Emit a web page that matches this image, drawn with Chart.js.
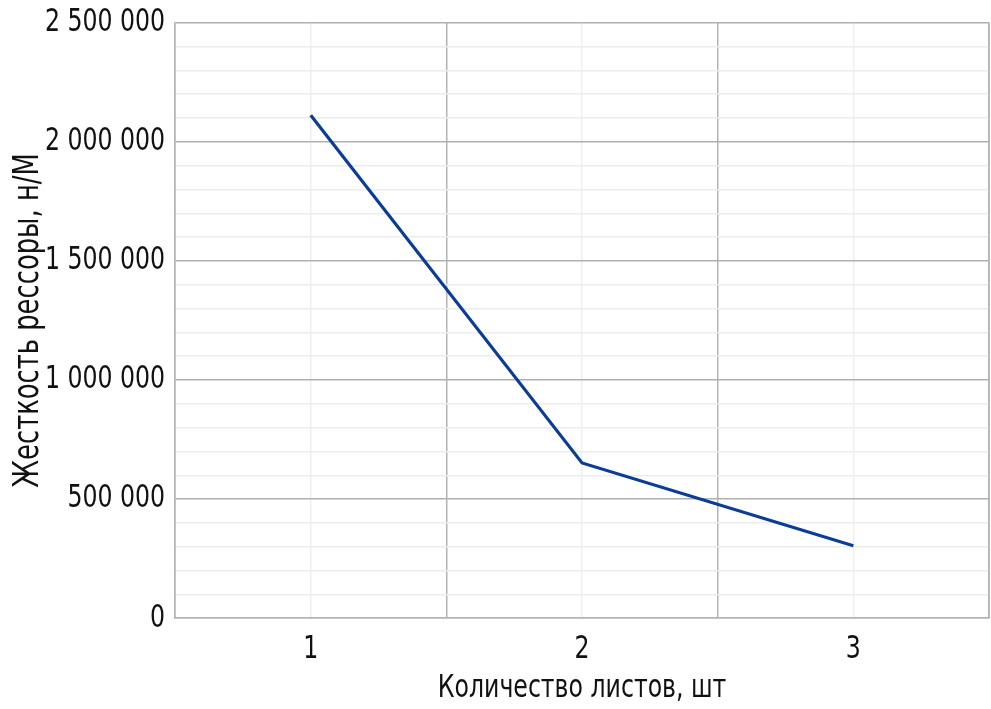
<!DOCTYPE html>
<html>
<head>
<meta charset="utf-8">
<script src="https://cdn.jsdelivr.net/npm/chart.js@4"></script>
<style>
  html, body { margin: 0; padding: 0; background: #fff; }
  #wrap { width: 991px; height: 709px; }
</style>
</head>
<body>
<div id="wrap"><canvas id="chart"></canvas></div>
<script>
const leafCounts = ['1', '2', '3'];
const stiffness = [2112000, 652000, 304000];

const yMin = 0;
const yMax = 2500000;
const yStep = 100000;
const yLabelStep = 500000;

const FONT = "'DejaVu Sans Condensed', 'Liberation Sans Narrow', sans-serif";
const SQUEEZE = 0.82; // the original uses a narrow font, squeeze text horizontally

function spaced(v) {
    return String(v).replace(/\B(?=(\d{3})+(?!\d))/g, ' ');
}

const ctx = document.getElementById('chart').getContext('2d');

// narrow text: scale glyphs along x and report the matching width
const origFillText = ctx.fillText.bind(ctx);
const origMeasure = ctx.measureText.bind(ctx);
ctx.fillText = function(text, x, y, maxWidth) {
    this.save();
    this.translate(x, y);
    this.scale(SQUEEZE, 1);
    origFillText(text, 0, 0);
    this.restore();
};
ctx.measureText = function(text) {
    const m = origMeasure(text);
    return {
        width: m.width * SQUEEZE,
        actualBoundingBoxAscent: m.actualBoundingBoxAscent,
        actualBoundingBoxDescent: m.actualBoundingBoxDescent,
        actualBoundingBoxLeft: m.actualBoundingBoxLeft * SQUEEZE,
        actualBoundingBoxRight: m.actualBoundingBoxRight * SQUEEZE
    };
};

new Chart(ctx, {
    type: 'line',
    data: {
        labels: leafCounts,
        datasets: [{
            data: stiffness,
            borderColor: '#0b3d96',
            borderWidth: 3.2,
            pointRadius: 0,
            tension: 0,
            fill: false
        }]
    },
    options: {
        responsive: true,
        maintainAspectRatio: false,
        animation: false,
        layout: { padding: { top: -3, right: 2, bottom: 1, left: 8 } },
        plugins: {
            legend: { display: false },
            tooltip: { enabled: false }
        },
        scales: {
            x: {
                type: 'category',
                offset: true,
                grid: {
                    offset: true,
                    color: '#b4b4b4',
                    lineWidth: 1.5,
                    drawTicks: false
                },
                border: { display: true, color: '#b4b4b4', width: 1.5 },
                ticks: {
                    color: '#111',
                    padding: 12,
                    font: { family: FONT, size: 32 }
                },
                title: {
                    display: true,
                    text: 'Количество листов, шт',
                    color: '#111',
                    padding: { top: -11, bottom: 0 },
                    font: { family: FONT, size: 32 }
                }
            },
            xCenter: {
                type: 'category',
                position: 'top',
                offset: true,
                labels: leafCounts,
                grid: {
                    offset: false,
                    color: '#efefef',
                    lineWidth: 1.5,
                    drawTicks: false
                },
                border: { display: false },
                ticks: { display: false }
            },
            y: {
                min: yMin,
                max: yMax,
                grid: {
                    color: c => (c.tick && c.tick.value % yLabelStep === 0) ? '#b0b0b0' : '#ececec',
                    lineWidth: 1.5,
                    drawTicks: false
                },
                border: { display: true, color: '#b4b4b4', width: 1.5 },
                ticks: {
                    stepSize: yStep,
                    autoSkip: false,
                    color: '#111',
                    padding: 10,
                    font: { family: FONT, size: 32, lineHeight: 0.8 },
                    callback: v => (v % yLabelStep === 0) ? spaced(v) : ''
                },
                title: {
                    display: true,
                    text: 'Жесткость рессоры, н/М',
                    color: '#111',
                    padding: { top: 0, bottom: -15 },
                    font: { family: FONT, size: 35 }
                }
            }
        }
    },
    plugins: [{
        id: 'frame',
        afterDraw(chart) {
            const a = chart.chartArea;
            const c = chart.ctx;
            c.save();
            c.strokeStyle = '#b4b4b4';
            c.lineWidth = 1.5;
            c.beginPath();
            c.moveTo(a.right, a.top);
            c.lineTo(a.right, a.bottom);
            c.stroke();
            c.restore();
        }
    }]
});
</script>
</body>
</html>
